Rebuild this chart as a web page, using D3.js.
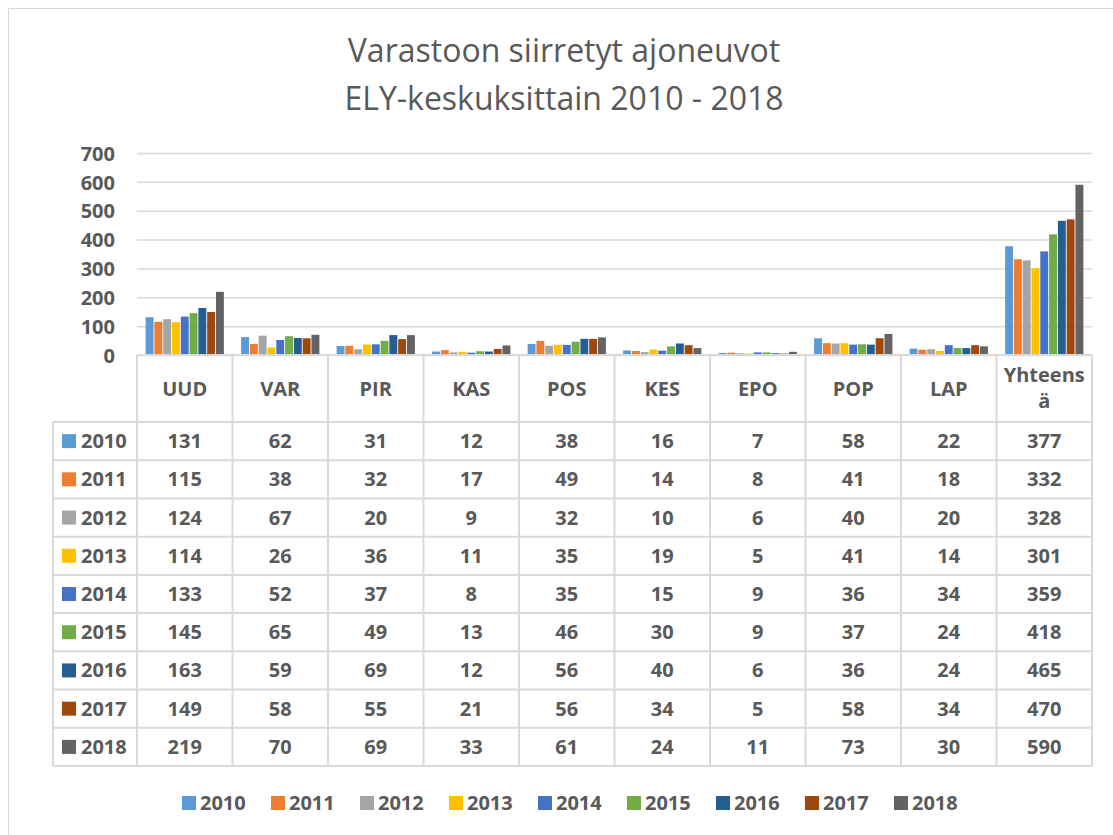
<!DOCTYPE html>
<html>
<head>
<meta charset="utf-8">
<script src="https://cdn.jsdelivr.net/npm/d3@7"></script>
<style>
  body { margin: 0; background: #fff; }
  svg text { font-family: "Open Sans", "Liberation Sans", sans-serif; fill: #595959; }
</style>
</head>
<body>
<svg id="chart" width="1113" height="835"></svg>
<script>
const categories = ["UUD", "VAR", "PIR", "KAS", "POS", "KES", "EPO", "POP", "LAP", "Yhteensä"];
const years = ["2010", "2011", "2012", "2013", "2014", "2015", "2016", "2017", "2018"];
const v2010 = [131, 62, 31, 12, 38, 16, 7, 58, 22, 377];
const v2011 = [115, 38, 32, 17, 49, 14, 8, 41, 18, 332];
const v2012 = [124, 67, 20, 9, 32, 10, 6, 40, 20, 328];
const v2013 = [114, 26, 36, 11, 35, 19, 5, 41, 14, 301];
const v2014 = [133, 52, 37, 8, 35, 15, 9, 36, 34, 359];
const v2015 = [145, 65, 49, 13, 46, 30, 9, 37, 24, 418];
const v2016 = [163, 59, 69, 12, 56, 40, 6, 36, 24, 465];
const v2017 = [149, 58, 55, 21, 56, 34, 5, 58, 34, 470];
const v2018 = [219, 70, 69, 33, 61, 24, 11, 73, 30, 590];
const yTicks = [0, 100, 200, 300, 400, 500, 600, 700];
const colors = ["#5B9BD5", "#ED7D31", "#A5A5A5", "#FFC000", "#4472C4", "#70AD47", "#255E91", "#9E480E", "#636363"];

const seriesValues = [v2010, v2011, v2012, v2013, v2014, v2015, v2016, v2017, v2018];
const series = years.map((yr, i) => ({ year: yr, color: colors[i], values: seriesValues[i] }));

const svg = d3.select("#chart");
const grid = "#d9d9d9";

// chart frame (only left/top edges are inside the picture)
svg.append("path").attr("d", "M8.5,835V8.5H1113").attr("fill", "none").attr("stroke", grid).attr("stroke-width", 1);

// title
const title = svg.append("text").attr("text-anchor", "middle").attr("font-size", 32);
title.append("tspan").attr("x", 564).attr("y", 62).text("Varastoon siirretyt ajoneuvot");
title.append("tspan").attr("x", 564).attr("y", 110).text("ELY-keskuksittain 2010 - 2018");

const plotLeft = 137, plotRight = 1092, plotTop = 153, base = 355;
const y = d3.scaleLinear().domain([0, 700]).range([base, plotTop]);
const x0 = d3.scaleBand().domain(categories).range([plotLeft, plotRight]).paddingInner(0.162).paddingOuter(0.081);
const x1 = d3.scaleBand().domain(years).range([0, x0.bandwidth()]).padding(0.1);
const col = d3.scaleBand().domain(categories).range([plotLeft, plotRight]);

// gridlines + tick labels
const yAxis = d3.axisLeft(y).tickValues(yTicks).tickSize(-(plotRight - plotLeft)).tickPadding(22);
const ga = svg.append("g").attr("transform", `translate(${plotLeft},0)`).call(yAxis);
ga.select(".domain").remove();
ga.selectAll(".tick line").attr("stroke", grid).attr("stroke-width", 1.5);
ga.selectAll(".tick text").attr("font-size", 20).attr("font-weight", "bold")
  .attr("fill", "#595959").attr("font-family", '"Open Sans", sans-serif').attr("dy", "0.36em");

// bars
const groups = svg.append("g").selectAll("g").data(series).join("g").attr("fill", d => d.color);
groups.selectAll("rect")
  .data(d => d.values.map((v, i) => ({ cat: categories[i], year: d.year, v })))
  .join("rect")
  .attr("x", d => x0(d.cat) + x1(d.year))
  .attr("y", d => y(d.v))
  .attr("width", x1.bandwidth())
  .attr("height", d => base - y(d.v));

// data table
const headerBottom = 422;
const rowH = (766 - headerBottom) / years.length;
const keyLeft = 53;
const rowY = i => headerBottom + i * rowH;
const tbl = svg.append("g").attr("stroke", grid).attr("stroke-width", 2).attr("fill", "none");
// horizontal lines
tbl.append("line").attr("x1", plotLeft).attr("x2", plotRight).attr("y1", base).attr("y2", base);
d3.range(years.length + 1).forEach(i => {
  tbl.append("line").attr("x1", keyLeft).attr("x2", plotRight).attr("y1", rowY(i)).attr("y2", rowY(i));
});
// vertical lines
tbl.append("line").attr("x1", keyLeft).attr("x2", keyLeft).attr("y1", headerBottom).attr("y2", rowY(years.length));
categories.forEach(c => {
  tbl.append("line").attr("x1", col(c)).attr("x2", col(c)).attr("y1", base).attr("y2", rowY(years.length));
});
tbl.append("line").attr("x1", plotRight).attr("x2", plotRight).attr("y1", base).attr("y2", rowY(years.length));

// header labels
const cellText = svg.append("g").attr("font-size", 20).attr("font-weight", "bold").attr("text-anchor", "middle");
categories.forEach(c => {
  const cx = col(c) + col.bandwidth() / 2;
  if (c === "Yhteensä") {
    cellText.append("text").attr("x", cx).attr("y", 382).text("Yhteens");
    cellText.append("text").attr("x", cx).attr("y", 408).text("ä");
  } else {
    cellText.append("text").attr("x", cx).attr("y", 396).text(c);
  }
});

// rows
series.forEach((s, i) => {
  const ty = rowY(i) + rowH / 2 + 7;
  svg.append("rect").attr("x", 62).attr("y", rowY(i) + rowH / 2 - 7).attr("width", 14).attr("height", 14).attr("fill", s.color);
  svg.append("text").attr("x", 81).attr("y", ty).attr("font-size", 20).attr("font-weight", "bold").text(s.year);
  s.values.forEach((v, j) => {
    cellText.append("text").attr("x", col(categories[j]) + col.bandwidth() / 2).attr("y", ty).text(v);
  });
});

// legend
const legend = svg.append("g").attr("transform", "translate(182,796)");
const lx = d3.scaleBand().domain(years).range([0, 89 * years.length]);
series.forEach(s => {
  const g = legend.append("g").attr("transform", `translate(${lx(s.year)},0)`);
  g.append("rect").attr("width", 14).attr("height", 14).attr("fill", s.color);
  g.append("text").attr("x", 18).attr("y", 14).attr("font-size", 20).attr("font-weight", "bold").text(s.year);
});
</script>
</body>
</html>
